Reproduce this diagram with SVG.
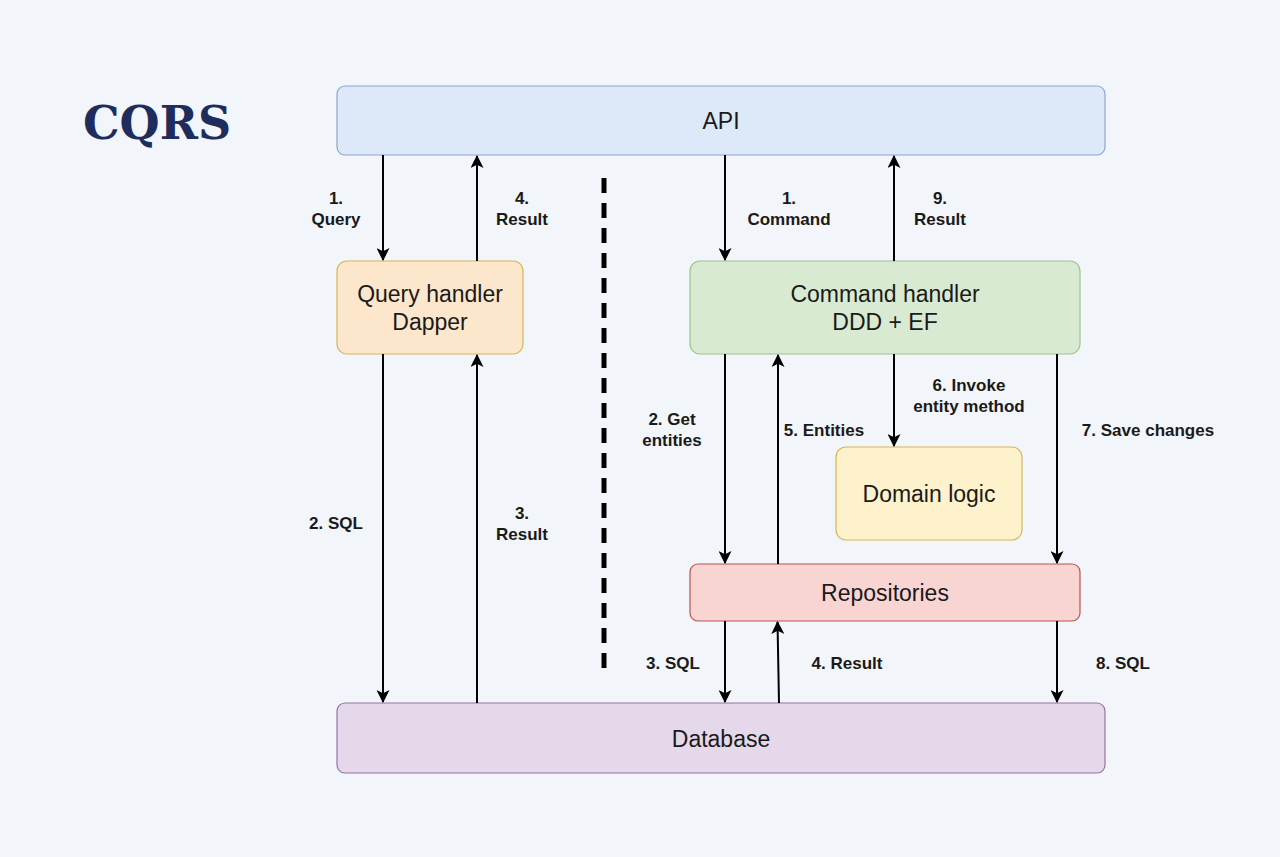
<svg xmlns="http://www.w3.org/2000/svg" width="1280" height="857" viewBox="0 0 1280 857">
<defs>
<marker id="ah" viewBox="0 0 12 12" refX="11" refY="6" markerWidth="13" markerHeight="13" markerUnits="userSpaceOnUse" orient="auto">
<path d="M0,0 L12,6 L0,12 L3,6 Z" fill="#000"/>
</marker>
<style>
.box{stroke-width:1.2}
.nt{font-family:"Liberation Sans",Arial,sans-serif;font-size:23px;fill:#1a1a1a;text-anchor:middle}
.lb{font-family:"Liberation Sans",Arial,sans-serif;font-size:17px;font-weight:bold;fill:#1a1a1a;text-anchor:middle}
.ar{stroke:#000;stroke-width:2;fill:none;marker-end:url(#ah)}
</style>
</defs>
<rect width="1280" height="857" fill="#f2f5f9"/>
<text x="83" y="139" font-family="DejaVu Serif, Liberation Serif, serif" font-weight="bold" font-size="46" fill="#1f2d5c">CQRS</text>

<g id="api"><rect class="box" x="337" y="86" width="768" height="69" rx="8" fill="#dde8f9" stroke="#8ea6cc"/><text class="nt" x="721" y="129">API</text></g>
<g id="query-handler"><rect class="box" x="337" y="261" width="186" height="93" rx="10" fill="#fde7cc" stroke="#d6b656"/><text class="nt" x="430" y="302">Query handler</text><text class="nt" x="430" y="330">Dapper</text></g>
<g id="command-handler"><rect class="box" x="690" y="261" width="390" height="93" rx="10" fill="#d9ead3" stroke="#9cc48a"/><text class="nt" x="885" y="302">Command handler</text><text class="nt" x="885" y="330">DDD + EF</text></g>
<g id="domain-logic"><rect class="box" x="836" y="447" width="186" height="93" rx="10" fill="#fef2cc" stroke="#d6b656"/><text class="nt" x="929" y="502">Domain logic</text></g>
<g id="repositories"><rect class="box" x="690" y="564" width="390" height="57" rx="8" fill="#f8d4d3" stroke="#b85450"/><text class="nt" x="885" y="601">Repositories</text></g>
<g id="database"><rect class="box" x="337" y="703" width="768" height="70" rx="8" fill="#e4d8ea" stroke="#9673a6"/><text class="nt" x="721" y="747">Database</text></g>

<g id="connectors">
<line class="ar" x1="383" y1="155" x2="383" y2="260"/>
<line class="ar" x1="477" y1="261" x2="477" y2="156"/>
<line class="ar" x1="383" y1="354" x2="383" y2="702"/>
<line class="ar" x1="477" y1="703" x2="477" y2="355"/>
<line class="ar" x1="725" y1="155" x2="725" y2="260"/>
<line class="ar" x1="894" y1="261" x2="894" y2="156"/>
<line class="ar" x1="725" y1="354" x2="725" y2="563"/>
<line class="ar" x1="778" y1="564" x2="778" y2="355"/>
<line class="ar" x1="894" y1="354" x2="894" y2="446"/>
<line class="ar" x1="1057" y1="354" x2="1057" y2="563"/>
<line class="ar" x1="725" y1="621" x2="725" y2="702"/>
<line class="ar" x1="779" y1="703" x2="777.5" y2="622"/>
<line class="ar" x1="1057" y1="621" x2="1057" y2="702"/>
<line x1="604" y1="178" x2="604" y2="668" stroke="#000" stroke-width="5" stroke-dasharray="15,10"/>
</g>

<g id="labels">
<text class="lb" x="336" y="204">1.</text><text class="lb" x="336" y="225">Query</text>
<text class="lb" x="522" y="204">4.</text><text class="lb" x="522" y="225">Result</text>
<text class="lb" x="789" y="204">1.</text><text class="lb" x="789" y="225">Command</text>
<text class="lb" x="940" y="204">9.</text><text class="lb" x="940" y="225">Result</text>
<text class="lb" x="672" y="425">2. Get</text><text class="lb" x="672" y="446">entities</text>
<text class="lb" x="824" y="436">5. Entities</text>
<text class="lb" x="969" y="391">6. Invoke</text><text class="lb" x="969" y="412">entity method</text>
<text class="lb" x="1148" y="436">7. Save changes</text>
<text class="lb" x="336" y="529">2. SQL</text>
<text class="lb" x="522" y="519">3.</text><text class="lb" x="522" y="540">Result</text>
<text class="lb" x="673" y="669">3. SQL</text>
<text class="lb" x="847" y="669">4. Result</text>
<text class="lb" x="1123" y="669">8. SQL</text>
</g>
</svg>
